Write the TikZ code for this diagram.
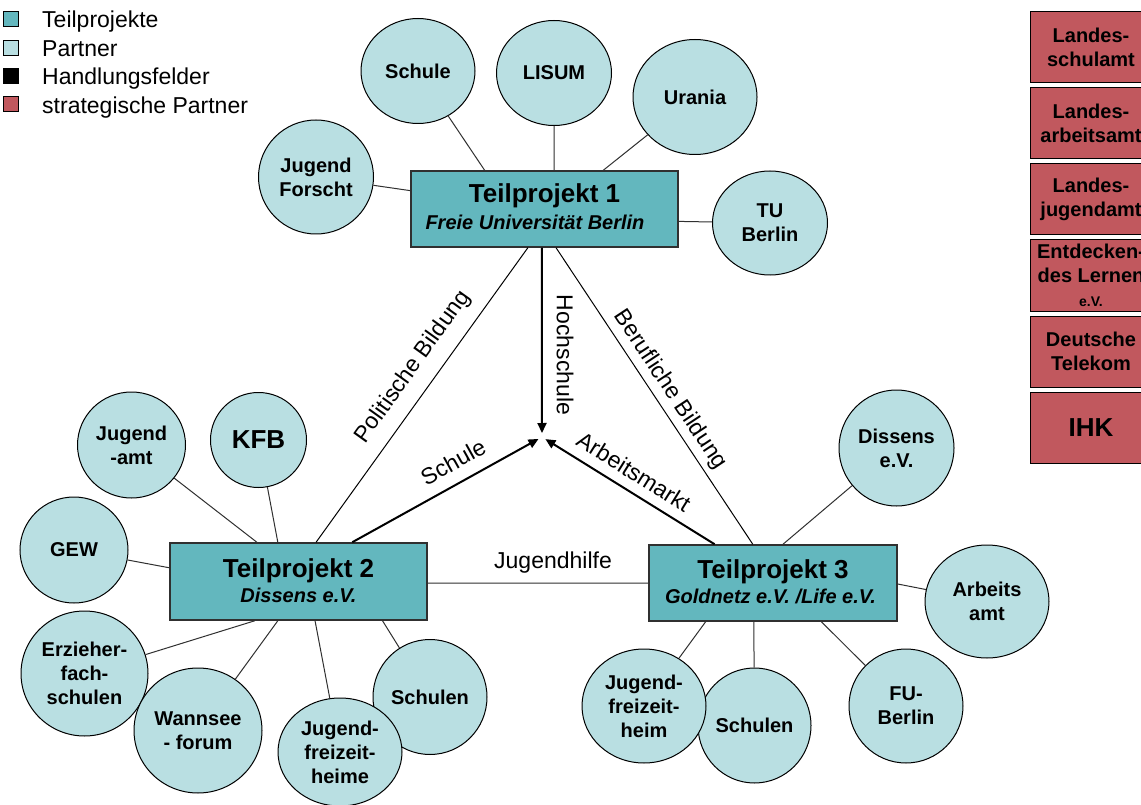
\documentclass[tikz,border=0pt]{standalone}
\usepackage{fontspec}
\setmainfont{Liberation Sans}
\usetikzlibrary{shapes.geometric,arrows.meta,calc}
\definecolor{tpc}{HTML}{63B7BE}
\definecolor{partc}{HTML}{B9DFE2}
\definecolor{stratc}{HTML}{C1585E}
\definecolor{linec}{HTML}{303030}
\newcommand\pfont{\fontsize{20}{24}\selectfont\bfseries}
\tikzset{
  partner/.style={ellipse, draw=black, line width=1pt, fill=partc, inner sep=0pt, align=center, font=\pfont},
  tpbox/.style={rectangle, draw=linec, line width=1.5pt, fill=tpc, inner sep=0pt},
  tptitle/.style={anchor=base, inner sep=0pt, font=\fontsize{26}{30}\selectfont\bfseries},
  tpsub/.style={anchor=base, inner sep=0pt, font=\fontsize{20}{24}\selectfont\bfseries\itshape},
  stratbox/.style={rectangle, draw=black, line width=1pt, fill=stratc, minimum width=122pt, minimum height=71pt, inner sep=0pt, align=center, font=\pfont},
  conn/.style={draw=linec, line width=1pt},
  thinfield/.style={draw=black, line width=1pt},
  field/.style={draw=black, line width=2pt, -{Triangle[length=10pt,width=9pt]}, shorten >=4pt},
  flabel/.style={inner sep=0pt, font=\fontsize{23}{27}\selectfont},
  legsq/.style={rectangle, draw=black, line width=0.8pt, minimum size=15pt, inner sep=0pt},
  legtxt/.style={anchor=base west, inner sep=0pt, font=\fontsize{23}{27}\selectfont}
}
\begin{document}
\begin{tikzpicture}[x=1pt,y=-1pt]
\useasboundingbox (0,0) rectangle (1141,805);
\fill[white] (0,0) rectangle (1141,805);
\clip (0,0) rectangle (1141,805);

% legend
\node[legsq, fill=tpc] (lg1) at (11,19) {};
\node[legsq, fill=partc] (lg2) at (11,47.5) {};
\node[legsq, fill=black] (lg3) at (11,75.5) {};
\node[legsq, fill=stratc] (lg4) at (11,104) {};
\node[legtxt] (lt1) at (42,28) {Teilprojekte};
\node[legtxt] (lt2) at (42,56.5) {Partner};
\node[legtxt] (lt3) at (42,85) {Handlungsfelder};
\node[legtxt] (lt4) at (42,113.5) {strategische Partner};

% strategic partners
\node[stratbox] (s1) at (1091,47.5) {Landes-\\schulamt};
\node[stratbox] (s2) at (1091,123.5) {Landes-\\arbeitsamt};
\node[stratbox] (s3) at (1091,199.5) {Landes-\\jugendamt};
\node[stratbox] (s4) at (1091,275.5) {Entdecken-\\des Lernen\\{\fontsize{14}{17}\selectfont e.V.}};
\node[stratbox] (s5) at (1091,351.5) {Deutsche\\Telekom};
\node[stratbox, font=\fontsize{26}{30}\selectfont\bfseries] (s6) at (1091,427.5) {IHK};

% Teilprojekt boxes
\node[tpbox, minimum width=267pt, minimum height=76pt] (tp1) at (544.5,209) {};
\node[tptitle] (tp1t) at (544.5,203) {Teilprojekt 1};
\node[tpsub] (tp1s) at (535,230) {Freie Universität Berlin};

\node[tpbox, minimum width=257pt, minimum height=77pt] (tp2) at (298.5,581.5) {};
\node[tptitle] (tp2t) at (298.5,577) {Teilprojekt 2};
\node[tpsub] (tp2s) at (298.5,602) {Dissens e.V.};

\node[tpbox, minimum width=248pt, minimum height=76pt] (tp3) at (773,583) {};
\node[tptitle] (tp3t) at (773,578) {Teilprojekt 3};
\node[tpsub] (tp3s) at (770.5,603) {Goldnetz e.V. /Life e.V.};

% partners TP1
\node[partner, minimum width=114pt, minimum height=105pt] (c1schule) at (418,71) {Schule};
\node[partner, minimum width=115pt, minimum height=105pt] (c1lisum) at (554,73) {LISUM};
\node[partner, minimum width=124pt, minimum height=115pt] (c1urania) at (695,97) {Urania};
\node[partner, minimum width=115pt, minimum height=114pt] (c1jf) at (316,177) {Jugend\\Forscht};
\node[partner, minimum width=115pt, minimum height=104pt] (c1tu) at (770,223) {TU\\Berlin};

% partners TP2
\node[partner, minimum width=108pt, minimum height=106pt] (c2ja) at (131.5,445) {Jugend\\-amt};
\node[partner, minimum width=96pt, minimum height=95pt, font=\fontsize{26}{30}\selectfont\bfseries] (c2kfb) at (258.5,440) {KFB};
\node[partner, minimum width=108pt, minimum height=106pt] (c2gew) at (74,550) {GEW};
\node[partner, minimum width=127pt, minimum height=125pt] (c2erz) at (84.5,673.5) {Erzieher-\\fach-\\schulen};
\node[partner, minimum width=128pt, minimum height=125pt] (c2wann) at (198,730.5) {Wannsee\\- forum};
\node[partner, minimum width=114pt, minimum height=115pt] (c2schulen) at (430,697) {Schulen};
\node[partner, minimum width=124pt, minimum height=108pt] (c2jfh) at (340,752) {Jugend-\\freizeit-\\heime};

% partners TP3
\node[partner, minimum width=115pt, minimum height=116pt] (c3dis) at (896.5,448) {Dissens\\e.V.};
\node[partner, minimum width=124pt, minimum height=113pt] (c3aa) at (987,601.5) {Arbeits\\amt};
\node[partner, minimum width=114pt, minimum height=114pt] (c3fu) at (906,706) {FU-\\Berlin};
\node[partner, minimum width=113pt, minimum height=115pt] (c3schulen) at (754.5,725.5) {Schulen};
\node[partner, minimum width=124pt, minimum height=114pt] (c3jfh) at (644,706) {Jugend-\\freizeit-\\heim};

% attachment points on boxes
\coordinate (a1schule) at ($(tp1.north west)!0.277!(tp1.north east)$);
\coordinate (a1lisum) at ($(tp1.north west)!0.536!(tp1.north east)$);
\coordinate (a1urania) at ($(tp1.north west)!0.719!(tp1.north east)$);
\coordinate (a1jf) at ($(tp1.north west)!0.263!(tp1.south west)$);
\coordinate (a1tu) at ($(tp1.north east)!0.66!(tp1.south east)$);
\coordinate (a1pol) at ($(tp1.south west)!0.438!(tp1.south east)$);
\coordinate (a1hoch) at ($(tp1.south west)!0.49!(tp1.south east)$);
\coordinate (a1beruf) at ($(tp1.south west)!0.543!(tp1.south east)$);

\coordinate (a2ja) at ($(tp2.north west)!0.339!(tp2.north east)$);
\coordinate (a2kfb) at ($(tp2.north west)!0.42!(tp2.north east)$);
\coordinate (a2pol) at ($(tp2.north west)!0.568!(tp2.north east)$);
\coordinate (a2schule) at ($(tp2.north west)!0.708!(tp2.north east)$);
\coordinate (a2gew) at ($(tp2.north west)!0.325!(tp2.south west)$);
\coordinate (a2erz) at ($(tp2.south west)!0.331!(tp2.south east)$);
\coordinate (a2wann) at ($(tp2.south west)!0.42!(tp2.south east)$);
\coordinate (a2jfh) at ($(tp2.south west)!0.564!(tp2.south east)$);
\coordinate (a2schulen) at ($(tp2.south west)!0.825!(tp2.south east)$);
\coordinate (a2jh) at ($(tp2.north east)!0.52!(tp2.south east)$);

\coordinate (a3jh) at ($(tp3.north west)!0.5!(tp3.south west)$);
\coordinate (a3arb) at ($(tp3.north west)!0.266!(tp3.north east)$);
\coordinate (a3beruf) at ($(tp3.north west)!0.419!(tp3.north east)$);
\coordinate (a3dis) at ($(tp3.north west)!0.54!(tp3.north east)$);
\coordinate (a3aa) at ($(tp3.north east)!0.513!(tp3.south east)$);
\coordinate (a3fu) at ($(tp3.south west)!0.694!(tp3.south east)$);
\coordinate (a3schulen) at ($(tp3.south west)!0.423!(tp3.south east)$);
\coordinate (a3jfh) at ($(tp3.south west)!0.23!(tp3.south east)$);

\coordinate (hub) at (542,437);

% partner connectors
\draw[conn] (c1schule) -- (a1schule);
\draw[conn] (c1lisum) -- (a1lisum);
\draw[conn] (c1urania) -- (a1urania);
\draw[conn] (c1jf) -- (a1jf);
\draw[conn] (c1tu) -- (a1tu);

\draw[conn] (c2ja) -- (a2ja);
\draw[conn] (c2kfb) -- (a2kfb);
\draw[conn] (c2gew) -- (a2gew);
\draw[conn] (c2erz) -- (a2erz);
\draw[conn] (c2wann) -- (a2wann);
\draw[conn] (c2jfh) -- (a2jfh);
\draw[conn] (c2schulen) -- (a2schulen);

\draw[conn] (c3dis) -- (a3dis);
\draw[conn] (c3aa) -- (a3aa);
\draw[conn] (c3fu) -- (a3fu);
\draw[conn] (c3schulen) -- (a3schulen);
\draw[conn] (c3jfh) -- (a3jfh);

% fields of action
\draw[thinfield] (a2pol) -- (a1pol);
\draw[thinfield] (a1beruf) -- (a3beruf);
\draw[conn] (a2jh) -- (a3jh);
\draw[field] (a1hoch) -- (hub);
\draw[field] (a2schule) -- (hub);
\draw[field] (a3arb) -- (hub);

% labels
\node[flabel, rotate=54.4] (lpol) at (413,367) {Politische Bildung};
\node[flabel, rotate=-90] (lhoch) at (565,355) {Hochschule};
\node[flabel, rotate=-56.5] (lberuf) at (670,390) {Berufliche Bildung};
\node[flabel, rotate=29.2] (lschule) at (453,462) {Schule};
\node[flabel, rotate=-32] (larb) at (634,472) {Arbeitsmarkt};
\node[flabel] (ljh) at (553,563) {Jugendhilfe};
\end{tikzpicture}
\end{document}
